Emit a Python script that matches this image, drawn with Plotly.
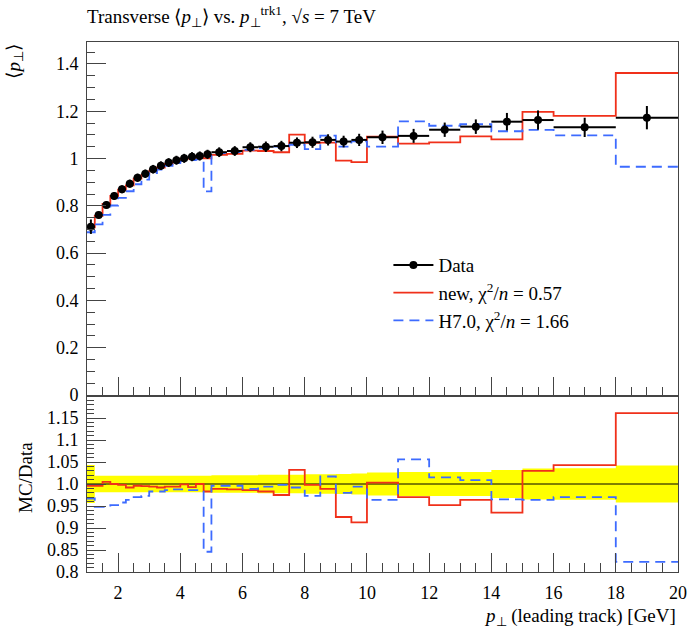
import plotly.graph_objects as go

# ---------------- data ----------------
bin_edges = [1.0, 1.25, 1.5, 1.75, 2.0, 2.25, 2.5, 2.75, 3.0, 3.25, 3.5, 3.75, 4.0,
             4.25, 4.5, 4.75, 5.0, 5.5, 6.0, 6.5, 7.0, 7.5, 8.0, 8.5, 9.0, 9.5, 10.0,
             11.0, 12.0, 13.0, 14.0, 15.0, 16.0, 18.0, 20.0]

data_vals = [0.712, 0.761, 0.804, 0.842, 0.870, 0.894, 0.919, 0.936, 0.955, 0.970,
             0.983, 0.993, 1.001, 1.008, 1.011, 1.018,
             1.027, 1.032, 1.048, 1.050, 1.053, 1.067, 1.069, 1.079, 1.072, 1.079,
             1.090, 1.096, 1.122, 1.135, 1.156, 1.163, 1.132, 1.173]

data_rel_err = [0.043, 0.019, 0.019, 0.019, 0.019, 0.019, 0.019, 0.019, 0.019, 0.019,
                0.019, 0.019, 0.019, 0.019, 0.019, 0.019,
                0.020, 0.020, 0.020, 0.021, 0.021, 0.021, 0.022, 0.022, 0.023, 0.024,
                0.026, 0.027, 0.027, 0.027, 0.032, 0.035, 0.036, 0.042]

new_ratio = [0.996, 0.996, 1.005, 1.000, 0.998, 0.992, 0.996, 0.995, 0.994, 0.992,
             0.994, 0.994, 0.999, 0.993, 1.000, 0.983,
             0.989, 0.988, 0.986, 0.983, 0.975, 1.032, 0.998, 0.989, 0.925, 0.913,
             1.003, 0.970, 0.952, 0.964, 0.935, 1.030, 1.043, 1.161]

h7_ratio = [0.967, 0.948, 0.948, 0.952, 0.958, 0.964, 0.970, 0.973, 0.983, 0.983,
            0.986, 0.988, 0.988, 0.986, 0.986, 0.846,
            0.996, 0.996, 0.989, 0.994, 0.998, 0.992, 0.973, 1.017, 0.980, 0.994,
            0.964, 1.056, 1.015, 1.009, 0.965, 0.964, 0.970, 0.823]

main_ticks = [0, 0.2, 0.4, 0.6, 0.8, 1.0, 1.2, 1.4]
main_ticktext = ["0", "0.2", "0.4", "0.6", "0.8", "1", "1.2", "1.4"]
ratio_ticks = [0.8, 0.85, 0.9, 0.95, 1.0, 1.05, 1.1, 1.15]
ratio_ticktext = ["0.8", "0.85", "0.9", "0.95", "1.0", "1.05", "1.1", "1.15"]
x_ticks = [2, 4, 6, 8, 10, 12, 14, 16, 18, 20]

legend_labels = ["Data", "new, χ<sup>2</sup>/<i>n</i> = 0.57", "H7.0, χ<sup>2</sup>/<i>n</i> = 1.66"]

# ---------------- derived ----------------
n = len(data_vals)
centers = [(bin_edges[i] + bin_edges[i + 1]) / 2 for i in range(n)]
halfw = [(bin_edges[i + 1] - bin_edges[i]) / 2 for i in range(n)]
data_err = [data_vals[i] * data_rel_err[i] for i in range(n)]
new_vals = [new_ratio[i] * data_vals[i] for i in range(n)]
h7_vals = [h7_ratio[i] * data_vals[i] for i in range(n)]


def step(vals):
    return list(bin_edges), list(vals) + [vals[-1]]


RED = "#f0301a"
BLUE = "#3d6bff"
FONT = "Liberation Serif"
FRAME = "#444444"

fig = go.Figure()

# ratio band
bx, lo = step([1 - e for e in data_rel_err])
_, hi = step([1 + e for e in data_rel_err])
fig.add_trace(go.Scatter(x=bx, y=lo, mode="lines", line=dict(width=0, shape="hv", color="#ffff00"),
                         xaxis="x", yaxis="y", showlegend=False, hoverinfo="skip"))
fig.add_trace(go.Scatter(x=bx, y=hi, mode="lines", line=dict(width=0, shape="hv", color="#ffff00"),
                         fill="tonexty", fillcolor="#ffff00",
                         xaxis="x", yaxis="y", showlegend=False, hoverinfo="skip"))
fig.add_trace(go.Scatter(x=[bin_edges[0], bin_edges[-1]], y=[1, 1], mode="lines",
                         line=dict(color="black", width=1), xaxis="x", yaxis="y",
                         showlegend=False, hoverinfo="skip"))
sx, sy = step(new_ratio)
fig.add_trace(go.Scatter(x=sx, y=sy, mode="lines", line=dict(color=RED, width=1.8, shape="hv"),
                         xaxis="x", yaxis="y", showlegend=False))
sx, sy = step(h7_ratio)
fig.add_trace(go.Scatter(x=sx, y=sy, mode="lines",
                         line=dict(color=BLUE, width=1.8, shape="hv", dash="10px,6px"),
                         xaxis="x", yaxis="y", showlegend=False))

# main panel
sx, sy = step(new_vals)
fig.add_trace(go.Scatter(x=sx, y=sy, mode="lines", line=dict(color=RED, width=1.8, shape="hv"),
                         xaxis="x2", yaxis="y2", showlegend=False))
sx, sy = step(h7_vals)
fig.add_trace(go.Scatter(x=sx, y=sy, mode="lines",
                         line=dict(color=BLUE, width=1.8, shape="hv", dash="10px,6px"),
                         xaxis="x2", yaxis="y2", showlegend=False))
fig.add_trace(go.Scatter(x=centers, y=data_vals, mode="markers",
                         marker=dict(color="black", size=8),
                         error_x=dict(type="data", array=halfw, width=0, thickness=2, color="black"),
                         error_y=dict(type="data", array=data_err, width=0, thickness=2, color="black"),
                         xaxis="x2", yaxis="y2", showlegend=False))

# legend entries
fig.add_trace(go.Scatter(x=[None], y=[None], mode="lines+markers", name=legend_labels[0],
                         line=dict(color="black", width=2), marker=dict(color="black", size=8),
                         xaxis="x2", yaxis="y2"))
fig.add_trace(go.Scatter(x=[None], y=[None], mode="lines", name=legend_labels[1],
                         line=dict(color=RED, width=1.8), xaxis="x2", yaxis="y2"))
fig.add_trace(go.Scatter(x=[None], y=[None], mode="lines", name=legend_labels[2],
                         line=dict(color=BLUE, width=1.8, dash="10px,6px"), xaxis="x2", yaxis="y2"))

split = (572 - 396) / 530.0

axis_common = dict(showline=True, linecolor=FRAME, linewidth=1, mirror=True,
                   ticks="inside", tickcolor=FRAME, ticklen=19, tickwidth=1,
                   showgrid=False, zeroline=False,
                   tickfont=dict(family=FONT, size=18, color="black"))

fig.update_layout(
    width=700, height=632,
    margin=dict(l=87, r=22, t=42, b=60),
    paper_bgcolor="white", plot_bgcolor="white",
    font=dict(family=FONT, size=18, color="black"),
    xaxis=dict(domain=[0, 1], anchor="y", range=[1, 20], tickmode="array", tickvals=x_ticks,
               minor=dict(dtick=0.5, tick0=0, ticks="inside", ticklen=9, tickcolor=FRAME),
               ticklabelstandoff=4, **axis_common),
    yaxis=dict(domain=[0, split], anchor="x", range=[0.8, 1.2], tickmode="array",
               tickvals=ratio_ticks, ticktext=ratio_ticktext,
               minor=dict(dtick=0.01, tick0=0.8, ticks="inside", ticklen=7, tickcolor=FRAME),
               ticklabelstandoff=4, **axis_common),
    xaxis2=dict(domain=[0, 1], anchor="y2", range=[1, 20], matches="x", tickmode="array",
                tickvals=x_ticks, showticklabels=False,
                minor=dict(dtick=0.5, tick0=0, ticks="inside", ticklen=9, tickcolor=FRAME),
                **axis_common),
    yaxis2=dict(domain=[split, 1], anchor="x2", range=[-0.004, 1.493], tickmode="array",
                tickvals=main_ticks, ticktext=main_ticktext,
                minor=dict(dtick=0.05, tick0=0, ticks="inside", ticklen=8, tickcolor=FRAME),
                ticklabelstandoff=4, **axis_common),
    legend=dict(x=0.51, y=0.615, xanchor="left", yanchor="top", bgcolor="rgba(0,0,0,0)",
                traceorder="normal",
                font=dict(family=FONT, size=19), tracegroupgap=0, itemwidth=40),
    title=dict(text="Transverse ⟨<i>p</i><sub>⊥</sub>⟩ vs. <i>p</i><sub>⊥</sub><sup>trk1</sup>, √<i>s</i> = 7 TeV",
               x=87 / 700, xanchor="left", y=1 - 16 / 632, yanchor="middle",
               font=dict(family=FONT, size=19)),
    annotations=[
        dict(text="⟨<i>p</i><sub>⊥</sub>⟩", textangle=-90, xref="paper", yref="paper",
             x=(14 - 87) / 591, y=1, xanchor="center", yanchor="top", showarrow=False,
             font=dict(family=FONT, size=19)),
        dict(text="MC/Data", textangle=-90, xref="paper", yref="paper",
             x=(25 - 87) / 591, y=(572 - 478) / 530, xanchor="center", yanchor="middle",
             showarrow=False, font=dict(family=FONT, size=19)),
        dict(text="<i>p</i><sub>⊥</sub> (leading track) [GeV]", xref="paper", yref="paper",
             x=1, y=(572 - 617) / 530, xanchor="right", yanchor="middle", showarrow=False,
             font=dict(family=FONT, size=19)),
    ],
)

fig.write_html("out.html")
